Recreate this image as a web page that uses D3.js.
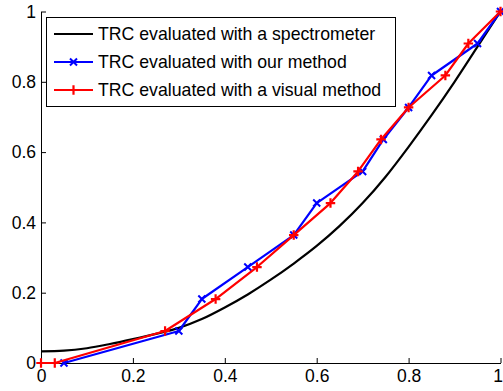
<!DOCTYPE html>
<html>
<head>
<meta charset="utf-8">
<script src="https://cdn.jsdelivr.net/npm/d3@7"></script>
<style>
  body { margin: 0; background: #fff; }
  text { font-family: "Liberation Sans", Arial, sans-serif; }
</style>
</head>
<body>
<svg id="chart"></svg>
<script>
// data
const spectroX = [0, 0.05, 0.1, 0.15, 0.2, 0.25, 0.3, 0.35, 0.4, 0.45, 0.5, 0.55, 0.6, 0.65, 0.7, 0.75, 0.8, 0.85, 0.9, 0.95, 1];
const spectroY = [0.033, 0.035, 0.042, 0.054, 0.068, 0.083, 0.1, 0.125, 0.158, 0.195, 0.237, 0.283, 0.333, 0.39, 0.455, 0.53, 0.615, 0.705, 0.8, 0.9, 1];

const oursX = [0.05, 0.30, 0.35, 0.45, 0.55, 0.60, 0.70, 0.745, 0.80, 0.85, 0.95, 1];
const oursY = [0, 0.091, 0.182, 0.273, 0.364, 0.455, 0.545, 0.636, 0.727, 0.818, 0.909, 1];

const visualX = [0, 0.03, 0.27, 0.38, 0.47, 0.55, 0.63, 0.69, 0.74, 0.80, 0.88, 0.93, 1];
const visualY = [0, 0, 0.091, 0.182, 0.273, 0.364, 0.455, 0.545, 0.636, 0.727, 0.818, 0.909, 1];

const tickValues = [0, 0.2, 0.4, 0.6, 0.8, 1];
const tickLabels = ["0", "0.2", "0.4", "0.6", "0.8", "1"];

const legendLabels = [
    "TRC evaluated with a spectrometer",
    "TRC evaluated with our method",
    "TRC evaluated with a visual method"
];

const width = 503, height = 391;
const margin = {top: 11.5, right: 2.5, bottom: 28, left: 41};

const svg = d3.select("#chart")
    .attr("width", width)
    .attr("height", height);

const x = d3.scaleLinear().domain([0, 1]).range([margin.left, width - margin.right]);
const y = d3.scaleLinear().domain([0, 1]).range([height - margin.bottom, margin.top]);

const zip = (xs, ys) => xs.map((d, i) => [d, ys[i]]);
const series = [
    {name: legendLabels[0], pts: zip(spectroX, spectroY), color: "#000", marker: null},
    {name: legendLabels[1], pts: zip(oursX, oursY), color: "#0000ff", marker: "x"},
    {name: legendLabels[2], pts: zip(visualX, visualY), color: "#ff0000", marker: "+"}
];

// axes, ticks pointing inward
const fmt = d => tickLabels[tickValues.indexOf(d)];

const xAxis = svg.append("g")
    .attr("transform", `translate(0, ${y(0)})`)
    .call(d3.axisBottom(x).tickValues(tickValues).tickFormat(fmt)
        .tickSizeInner(-5).tickSizeOuter(0).tickPadding(7));

const yAxis = svg.append("g")
    .attr("transform", `translate(${x(0)}, 0)`)
    .call(d3.axisLeft(y).tickValues(tickValues).tickFormat(fmt)
        .tickSizeInner(-5).tickSizeOuter(0).tickPadding(5));

[xAxis, yAxis].forEach(a => {
    a.selectAll("text").attr("font-size", 17.5).attr("fill", "#000")
        .style("font-family", "'Liberation Sans', Arial, sans-serif");
    a.selectAll("line").attr("stroke", "#000");
    a.select(".domain").attr("stroke", "#000");
});
xAxis.selectAll("text").attr("dy", "0.71em");
// last label sits at the window edge, keep it inside
xAxis.selectAll(".tick").filter(d => d === 1).select("text").attr("text-anchor", "end").attr("x", 2);

// lines
const line = d3.line().x(d => x(d[0])).y(d => y(d[1]));
const smooth = d3.line().x(d => x(d[0])).y(d => y(d[1])).curve(d3.curveMonotoneX);

const drawMarker = (g, type, cx, cy, color, s) => {
    if (type === "x") {
        g.append("path")
            .attr("d", `M${cx - s},${cy - s}L${cx + s},${cy + s}M${cx - s},${cy + s}L${cx + s},${cy - s}`)
            .attr("stroke", color).attr("stroke-width", 2).attr("fill", "none");
    } else if (type === "+") {
        g.append("path")
            .attr("d", `M${cx - s * 1.35},${cy}L${cx + s * 1.35},${cy}M${cx},${cy - s * 1.35}L${cx},${cy + s * 1.35}`)
            .attr("stroke", color).attr("stroke-width", 2.2).attr("fill", "none");
    }
};

series.forEach(s => {
    const g = svg.append("g");
    g.append("path")
        .datum(s.pts)
        .attr("d", s.marker ? line : smooth)
        .attr("fill", "none")
        .attr("stroke", s.color)
        .attr("stroke-width", 2.2)
        .attr("stroke-linejoin", "round");
    if (s.marker) {
        s.pts.forEach(p => drawMarker(g, s.marker, x(p[0]), y(p[1]), s.color, 3.5));
    }
});

// legend
const legend = svg.append("g");
legend.append("rect")
    .attr("x", 46.5).attr("y", 17.5)
    .attr("width", 349).attr("height", 89)
    .attr("fill", "#fff").attr("stroke", "#000").attr("stroke-width", 1);

series.forEach((s, i) => {
    const ly = 34 + i * 28;
    legend.append("line")
        .attr("x1", 54).attr("x2", 93)
        .attr("y1", ly).attr("y2", ly)
        .attr("stroke", s.color).attr("stroke-width", 2.2);
    if (s.marker) drawMarker(legend, s.marker, 73.5, ly, s.color, 3.5);
    legend.append("text")
        .attr("x", 98).attr("y", ly)
        .attr("dy", "0.36em")
        .attr("font-size", 17.7)
        .text(s.name);
});
</script>
</body>
</html>
